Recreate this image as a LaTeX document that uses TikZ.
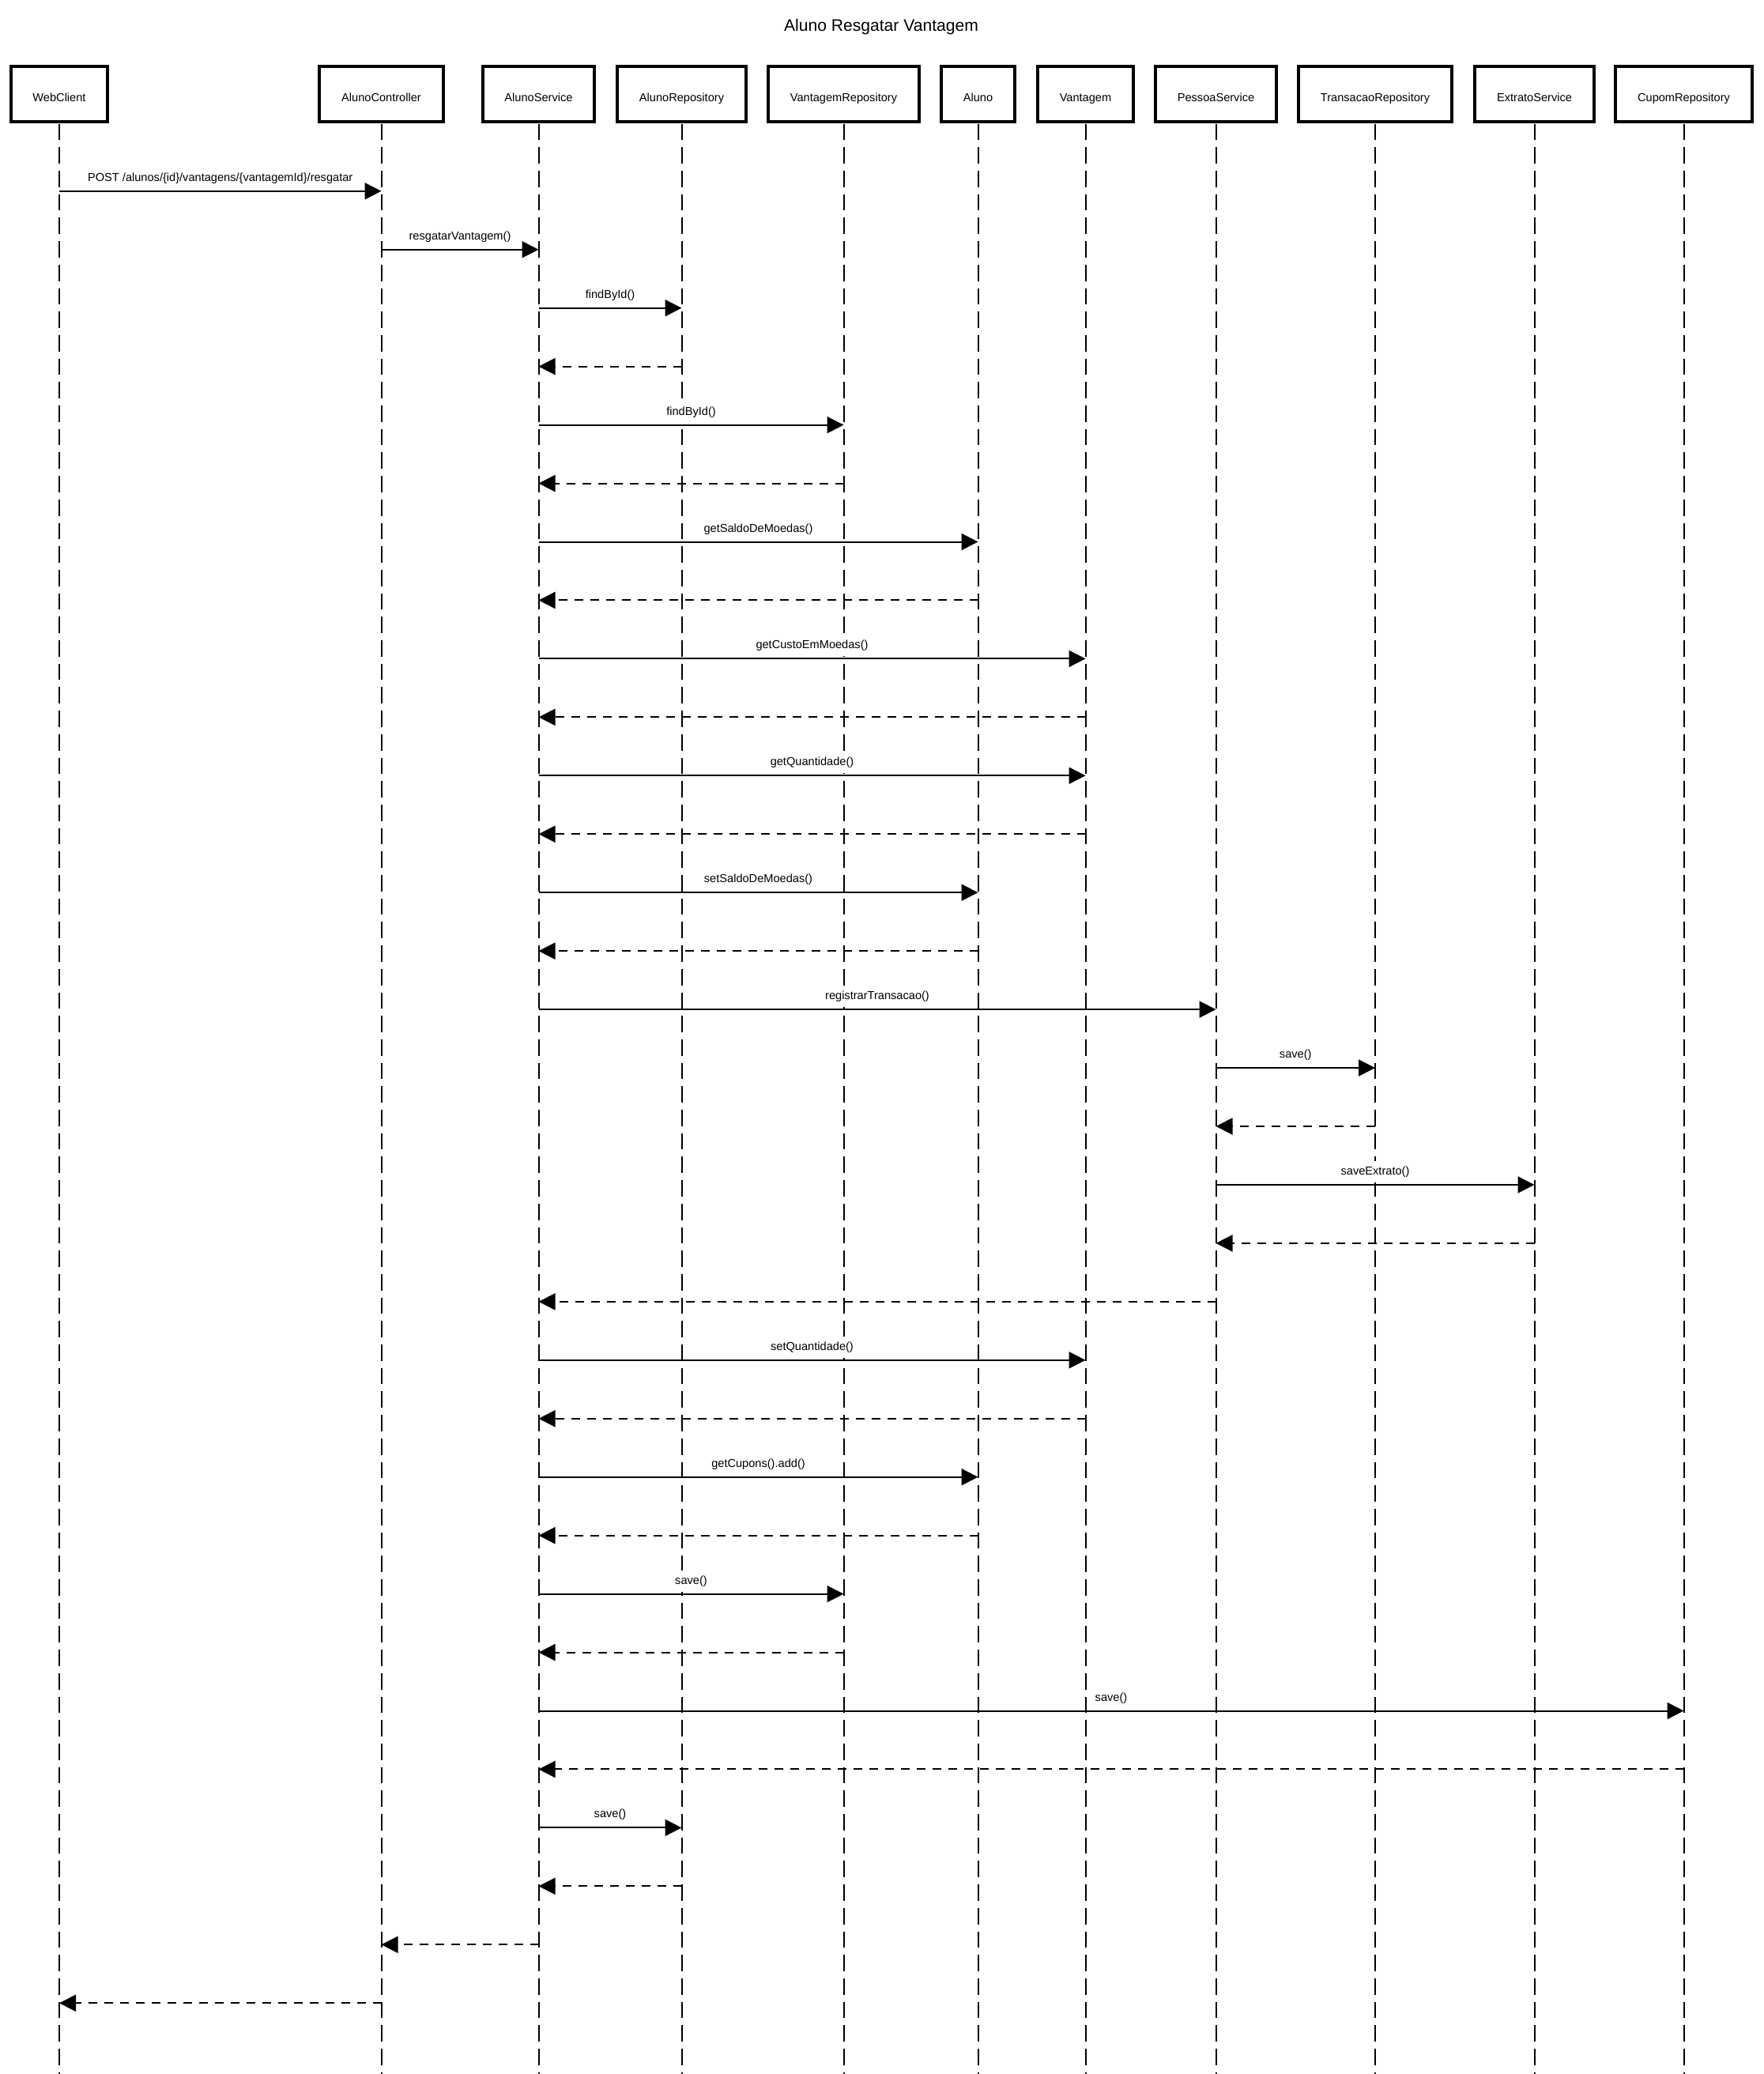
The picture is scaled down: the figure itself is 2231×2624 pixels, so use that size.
\documentclass[tikz,border=0pt]{standalone}
\usepackage{fontspec}
\setmainfont{Liberation Sans}
\usetikzlibrary{arrows.meta}
\tikzset{
  part/.style={draw, line width=4pt, fill=white, minimum height=69.3pt, inner sep=0pt,
    text height=19pt, text depth=0pt, font=\fontsize{14.6}{17}\selectfont},
  lifeline/.style={line width=2pt, dash pattern=on 20.7pt off 9pt},
  msgline/.style={line width=2pt, -{Triangle[length=21pt,width=21pt]}},
  retline/.style={line width=2pt, dash pattern=on 10.7pt off 9.3pt, -{Triangle[length=21pt,width=21pt]}},
  lbl/.style={fill=white, anchor=south, yshift=2pt, inner xsep=3pt, inner ysep=6.5pt,
    text height=11pt, text depth=3pt, font=\fontsize{14.6}{17}\selectfont},
  titlestyle/.style={font=\fontsize{21.1}{25}\selectfont, inner sep=0pt}
}
\newcommand\callmsg[4]{\draw[msgline] (#1 |- r#3) -- node[lbl]{#4} (#2 |- r#3);}
\newcommand\retmsg[3]{\draw[retline] (#1 |- r#3) -- (#2 |- r#3);}
\begin{document}
\begin{tikzpicture}[x=1pt, y=-1pt]
\useasboundingbox (0,0) rectangle (2231,2624);
\node[titlestyle] (title) at (1115,34) {Aluno Resgatar Vantagem};
% participants
\node[part, minimum width=122pt] (wc) at (75,119) {WebClient};
\node[part, minimum width=157pt] (ctl) at (482.5,119) {AlunoController};
\node[part, minimum width=141pt] (svc) at (681.5,119) {AlunoService};
\node[part, minimum width=163pt] (arepo) at (862.5,119) {AlunoRepository};
\node[part, minimum width=191pt] (vrepo) at (1067.5,119) {VantagemRepository};
\node[part, minimum width=93pt] (aluno) at (1237.5,119) {Aluno};
\node[part, minimum width=121pt] (vant) at (1373.5,119) {Vantagem};
\node[part, minimum width=153pt] (pessoa) at (1538.5,119) {PessoaService};
\node[part, minimum width=194pt] (trepo) at (1740,119) {TransacaoRepository};
\node[part, minimum width=151pt] (extr) at (1941.5,119) {ExtratoService};
\node[part, minimum width=173pt] (cupom) at (2130.5,119) {CupomRepository};
% bottom reference
\coordinate (bottom) at (0,2624);
% lifelines
\foreach \p in {wc,ctl,svc,arepo,vrepo,aluno,vant,pessoa,trepo,extr,cupom}{
  \draw[lifeline] ([yshift=-1pt]\p.south) -- (\p |- bottom);
}
% message rows
\foreach \k in {1,...,32}{
  \coordinate (r\k) at (0,{241.8+73.95*(\k-1)});
}
\callmsg{wc}{ctl}{1}{POST /alunos/\{id\}/vantagens/\{vantagemId\}/resgatar}
\callmsg{ctl}{svc}{2}{resgatarVantagem()}
\callmsg{svc}{arepo}{3}{findById()}
\retmsg{arepo}{svc}{4}
\callmsg{svc}{vrepo}{5}{findById()}
\retmsg{vrepo}{svc}{6}
\callmsg{svc}{aluno}{7}{getSaldoDeMoedas()}
\retmsg{aluno}{svc}{8}
\callmsg{svc}{vant}{9}{getCustoEmMoedas()}
\retmsg{vant}{svc}{10}
\callmsg{svc}{vant}{11}{getQuantidade()}
\retmsg{vant}{svc}{12}
\callmsg{svc}{aluno}{13}{setSaldoDeMoedas()}
\retmsg{aluno}{svc}{14}
\callmsg{svc}{pessoa}{15}{registrarTransacao()}
\callmsg{pessoa}{trepo}{16}{save()}
\retmsg{trepo}{pessoa}{17}
\callmsg{pessoa}{extr}{18}{saveExtrato()}
\retmsg{extr}{pessoa}{19}
\retmsg{pessoa}{svc}{20}
\callmsg{svc}{vant}{21}{setQuantidade()}
\retmsg{vant}{svc}{22}
\callmsg{svc}{aluno}{23}{getCupons().add()}
\retmsg{aluno}{svc}{24}
\callmsg{svc}{vrepo}{25}{save()}
\retmsg{vrepo}{svc}{26}
\callmsg{svc}{cupom}{27}{save()}
\retmsg{cupom}{svc}{28}
\callmsg{svc}{arepo}{29}{save()}
\retmsg{arepo}{svc}{30}
\retmsg{svc}{ctl}{31}
\retmsg{ctl}{wc}{32}
\end{tikzpicture}
\end{document}
